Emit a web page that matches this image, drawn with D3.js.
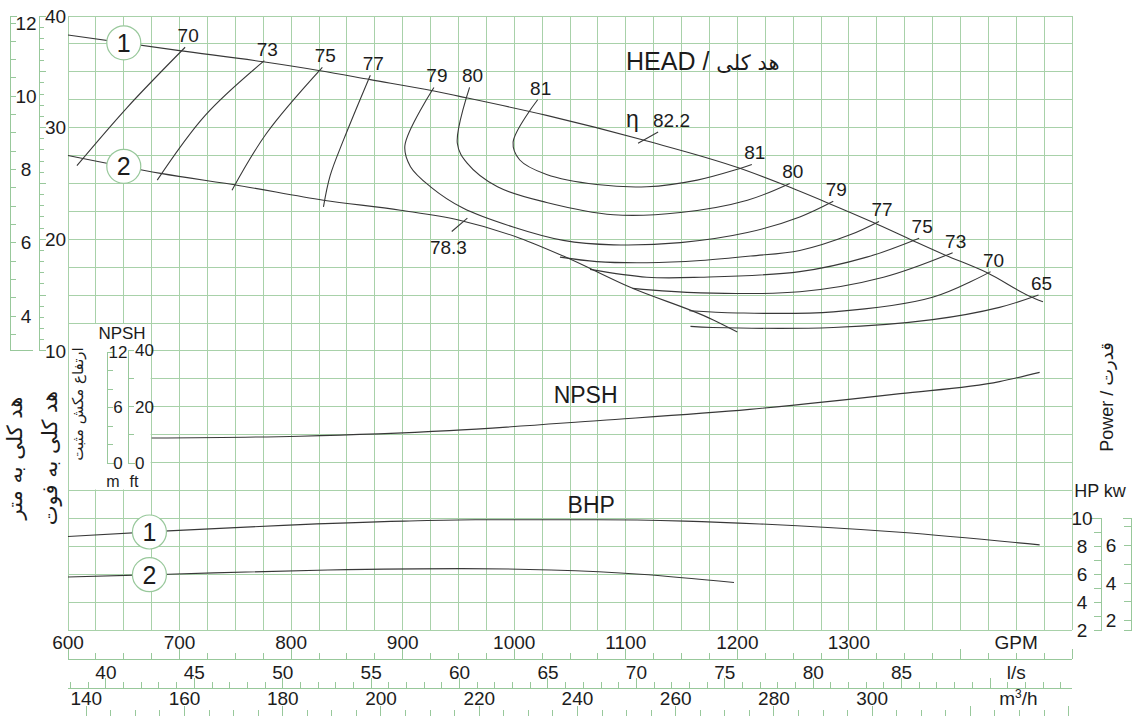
<!DOCTYPE html>
<html>
<head>
<meta charset="UTF-8" />
<style>
  body { margin: 0; background: #fff; }
  svg { display: block; font-family: "Liberation Sans", Arial, "DejaVu Sans", sans-serif; }
  .grid line { stroke: #a8d1a9; stroke-width: 1; shape-rendering: crispEdges; }
  .ax { stroke: #98c89b; stroke-width: 1; fill: none; shape-rendering: crispEdges; }
  .curve { fill: none; stroke: #383838; stroke-width: 1.1; }
  text { fill: #1c1c1c; }
</style>
</head>
<body>
<svg></svg>
<script src="https://d3js.org/d3.v7.min.js"></script>
<script>
// ---- data (flow in GPM, head in ft) ----
const gpmTicks = [600, 700, 800, 900, 1000, 1100, 1200, 1300];
const lsTicks = [40, 45, 50, 55, 60, 65, 70, 75, 80, 85];
const m3hTicks = [140, 160, 180, 200, 220, 240, 260, 280, 300];
const headFtTicks = [10, 20, 30, 40];
const headMTicks = [4, 6, 8, 10, 12];
const hpTicks = [2, 4, 6, 8, 10];
const kwTicks = [2, 4, 6];
const npshMTicks = [0, 6, 12];
const npshFtTicks = [0, 20, 40];

const head1 = [[600,38.3],[700,36.9],[775,35.9],[826,35.1],[871,34.3],[927,33.3],[951,32.8],[1029,31.1],[1119,28.8],[1201,26.4],[1241,24.9],[1280,23.3],[1322,21.5],[1357,19.9],[1386,18.6],[1424,17.0],[1462,14.9],[1474,14.4]];
const head2 = [[600,27.5],[683,25.9],[754,24.8],[829,23.5],[898,22.6],[951,21.7],[1005,20.1],[1044,18.5],[1104,15.7],[1178,12.8],[1200,11.7]];

const eff70Left = [[608,26.6],[653,31.8],[705,37.2]];
const eff73Left = [[680,25.3],[723,31.1],[776,36.0]];
const eff75Left = [[747,24.4],[778,29.5],[828,35.4]];
const eff77Left = [[829,22.9],[835,25.7],[847,28.9],[871,34.7]];
const eff79 = [[928,33.6],[902,28.4],[907,26.5],[925,24.7],[954,22.8],[999,21.1],[1044,19.9],[1089,19.5],[1149,19.7],[1209,20.6],[1256,22.0],[1286,23.4]];
const eff80 = [[960,33.6],[949,28.6],[958,26.8],[985,24.7],[1029,23.3],[1089,22.2],[1149,22.4],[1209,23.5],[1247,25.0]];
const eff81 = [[1021,32.5],[999,28.7],[1005,27.1],[1029,25.8],[1074,24.9],[1119,24.7],[1164,25.3],[1201,26.3],[1213,26.7]];
const eff77Right = [[1041,18.4],[1074,18.0],[1119,17.9],[1167,18.1],[1212,18.5],[1256,19.0],[1301,20.4],[1327,21.6]];
const eff75Right = [[1068,17.3],[1119,16.6],[1167,16.6],[1256,17.1],[1316,18.4],[1363,20.1]];
const eff73Right = [[1106,15.6],[1167,15.2],[1256,15.3],[1331,16.6],[1393,18.8]];
const eff70Right = [[1157,13.6],[1200,13.4],[1286,13.5],[1375,14.8],[1427,17.1]];
const eff65Right = [[1158,12.2],[1178,12.1],[1286,12.1],[1375,12.8],[1435,13.9],[1470,15.0]];

const bestMark = [[1111,28.6],[1129,29.6]];   // eta 82.2
const lowMark = [[944,20.7],[958,21.9]];      // 78.3

const npshFlow = [675, 808, 942, 1077, 1211, 1346, 1435, 1471];
const npshM = [2.7, 2.9, 3.5, 4.6, 5.8, 7.5, 8.8, 9.8];

const bhp1Flow = [600, 690, 793, 901, 965, 1073, 1153, 1220, 1346, 1471];
const bhp1Hp = [8.7, 9.1, 9.5, 9.8, 9.9, 9.9, 9.8, 9.6, 9.0, 8.1];
const bhp2Flow = [600, 690, 833, 953, 1033, 1113, 1197];
const bhp2Hp = [5.8, 6.0, 6.3, 6.4, 6.3, 6.0, 5.4];

// ---- setup ----
const width = 1138, height = 716;
const svg = d3.select("svg").attr("width", width).attr("height", height);

const x = d3.scaleLinear().domain([600, 1500]).range([68, 1072]);
const yHead = d3.scaleLinear().domain([-15, 40]).range([630, 16]);
const cell = (630 - 16) / 22;
const yPow = d3.scaleLinear().domain([2, 10]).range([630, 630 - 4 * cell]);
const yNpsh = d3.scaleLinear().domain([0, 12]).range([463, 352]);
const xLs = d3.scaleLinear().domain([600 * 0.0630902, 1500 * 0.0630902]).range(x.range());
const xM3 = d3.scaleLinear().domain([600 * 0.227125, 1500 * 0.227125]).range(x.range());

function interpY(pts, gx) {
  for (let i = 1; i < pts.length; i++) {
    if (gx <= pts[i][0]) {
      const t = (gx - pts[i - 1][0]) / (pts[i][0] - pts[i - 1][0]);
      return pts[i - 1][1] + t * (pts[i][1] - pts[i - 1][1]);
    }
  }
  return pts[pts.length - 1][1];
}

// grid
const grid = svg.append("g").attr("class", "grid");
grid.selectAll(".v").data(d3.range(600, 1501, 25)).join("line").attr("class", "v")
  .attr("x1", d => x(d)).attr("x2", d => x(d)).attr("y1", yHead(40)).attr("y2", yHead(-15));
grid.selectAll(".h").data(d3.range(-15, 40.1, 2.5)).join("line").attr("class", "h")
  .attr("x1", x(600)).attr("x2", x(1500)).attr("y1", d => yHead(d)).attr("y2", d => yHead(d));

// blank box for NPSH scale
svg.append("rect").attr("x", x(600) + 1).attr("y", yHead(12.5) + 1)
  .attr("width", x(675) - x(600) - 2).attr("height", yHead(-2.5) - yHead(12.5) - 2)
  .attr("fill", "#fff");

// ---- left head axes ----
function yHeadM(m) { return yHead(m * 3.28084); }
const mAx = svg.append("g");
mAx.append("path").attr("class", "ax")
  .attr("d", `M17,${yHead(40)}H10V${yHead(10)}H33`);
mAx.selectAll("line").data(d3.range(3.5, 12.01, 0.5)).join("line").attr("class", "ax")
  .attr("x1", 10).attr("x2", 16).attr("y1", d => yHeadM(d)).attr("y2", d => yHeadM(d));
mAx.selectAll("text").data(headMTicks).join("text")
  .attr("x", 26).attr("y", d => yHeadM(d)).attr("dy", "0.35em")
  .attr("text-anchor", "middle").attr("font-size", 19).text(d => d);

const ftAx = svg.append("g");
ftAx.append("path").attr("class", "ax").attr("d", `M39,${yHead(40)}V${yHead(10)}`);
ftAx.selectAll("line").data(d3.range(10, 40.1, 1)).join("line").attr("class", "ax")
  .attr("x1", 39).attr("x2", d => (d % 5 === 0 ? 46 : 44)).attr("y1", d => yHead(d)).attr("y2", d => yHead(d));
ftAx.selectAll("text").data(headFtTicks).join("text")
  .attr("x", 45).attr("y", d => yHead(d)).attr("dy", "0.35em")
  .attr("font-size", 19).text(d => d);

// vertical Persian titles
const vt = [["هد کلی به متر", 15, 458, 21], ["هد کلی به فوت", 50, 458, 21], ["ارتفاع مکش مثبت", 78, 404, 15]];
svg.selectAll(".vt").data(vt).join("text").attr("class", "vt")
  .attr("transform", d => `translate(${d[1]},${d[2]}) rotate(-90)`)
  .attr("text-anchor", "middle").attr("dy", "0.35em")
  .attr("font-family", "DejaVu Sans, sans-serif").attr("font-size", d => d[3]).text(d => d[0]);

// ---- NPSH mini axes ----
const nAx = svg.append("g");
nAx.append("path").attr("class", "ax").attr("d", `M107,${yNpsh(12)}V${yNpsh(0)}H114`);
nAx.selectAll(".tk").data(d3.range(0, 12.1, 2)).join("line").attr("class", "ax tk")
  .attr("x1", 107).attr("x2", 113).attr("y1", d => yNpsh(d)).attr("y2", d => yNpsh(d));
nAx.selectAll(".lb").data(npshMTicks).join("text").attr("class", "lb")
  .attr("x", 118).attr("y", d => yNpsh(d)).attr("dy", "0.35em")
  .attr("text-anchor", "middle").attr("font-size", 17).text(d => d);
const yNft = f => yNpsh(f / 3.28084);
nAx.append("path").attr("class", "ax").attr("d", `M128,${yNft(40)}V${yNft(0)}H135`);
nAx.selectAll(".tf").data(d3.range(0, 40.1, 10)).join("line").attr("class", "ax tf")
  .attr("x1", 128).attr("x2", 134).attr("y1", d => yNft(d)).attr("y2", d => yNft(d));
nAx.selectAll(".lf").data(npshFtTicks).join("text").attr("class", "lf")
  .attr("x", 135).attr("y", d => yNft(d)).attr("dy", "0.35em")
  .attr("font-size", 17).text(d => d);
svg.append("text").attr("x", 122).attr("y", 339).attr("text-anchor", "middle")
  .attr("font-size", 17).text("NPSH");
svg.append("text").attr("x", 113).attr("y", 487).attr("text-anchor", "middle").attr("font-size", 16).text("m");
svg.append("text").attr("x", 134).attr("y", 487).attr("text-anchor", "middle").attr("font-size", 16).text("ft");

// ---- right power axes ----
svg.append("text").attr("transform", "translate(1107,397) rotate(-90)")
  .attr("text-anchor", "middle").attr("dy", "0.35em").attr("font-size", 18)
  .text("Power / قدرت");
svg.append("text").attr("x", 1100).attr("y", 497).attr("text-anchor", "middle")
  .attr("font-size", 18).text("HP kw");
const pAx = svg.append("g");
pAx.append("path").attr("class", "ax").attr("d", `M1090,${yPow(10)}H1101V${yPow(2)}H1094`);
pAx.selectAll(".tk").data(d3.range(3, 10, 1)).join("line").attr("class", "ax tk")
  .attr("x1", 1094).attr("x2", 1101).attr("y1", d => yPow(d)).attr("y2", d => yPow(d));
pAx.selectAll(".lb").data(hpTicks).join("text").attr("class", "lb")
  .attr("x", 1082).attr("y", d => yPow(d)).attr("dy", "0.35em")
  .attr("text-anchor", "middle").attr("font-size", 19).text(d => d);
const yKw = k => yPow(k / 0.7457);
pAx.append("path").attr("class", "ax").attr("d", `M1123,${yPow(10)}H1131V${yPow(2)}H1124`);
pAx.selectAll(".tw").data(d3.range(2, 7.1, 1)).join("line").attr("class", "ax tw")
  .attr("x1", 1124).attr("x2", 1131).attr("y1", d => yKw(d)).attr("y2", d => yKw(d));
pAx.selectAll(".lw").data(kwTicks).join("text").attr("class", "lw")
  .attr("x", 1111).attr("y", d => yKw(d)).attr("dy", "0.35em")
  .attr("text-anchor", "middle").attr("font-size", 19).text(d => d);

// ---- bottom flow axes ----
const bAx = svg.append("g");
bAx.selectAll(".g").data(gpmTicks).join("text").attr("class", "g")
  .attr("x", d => x(d)).attr("y", 649).attr("text-anchor", "middle").attr("font-size", 19).text(d => d);
bAx.append("text").attr("x", x(1450)).attr("y", 649).attr("text-anchor", "middle").attr("font-size", 19).text("GPM");

bAx.append("line").attr("class", "ax").attr("x1", x(600)).attr("x2", x(1500)).attr("y1", 659).attr("y2", 659);
bAx.selectAll(".t2").data(d3.range(600, 1501, 25)).join("line").attr("class", "ax t2")
  .attr("x1", d => x(d)).attr("x2", d => x(d)).attr("y1", 659).attr("y2", d => (d % 100 === 0 ? 649 : 653));
bAx.selectAll(".l").data(lsTicks).join("text").attr("class", "l")
  .attr("x", d => xLs(d)).attr("y", 679).attr("text-anchor", "middle").attr("font-size", 19).text(d => d);
bAx.append("text").attr("x", x(1450)).attr("y", 679).attr("text-anchor", "middle").attr("font-size", 19).text("l/s");

bAx.append("line").attr("class", "ax").attr("x1", x(600)).attr("x2", x(1500)).attr("y1", 688).attr("y2", 688);
bAx.selectAll(".t3").data(d3.range(38, 95, 1)).join("line").attr("class", "ax t3")
  .attr("x1", d => xLs(d)).attr("x2", d => xLs(d)).attr("y1", 688).attr("y2", d => (d % 5 === 0 ? 678 : 682));
bAx.selectAll(".m").data(m3hTicks).join("text").attr("class", "m")
  .attr("x", d => xM3(d)).attr("y", 705).attr("text-anchor", "middle").attr("font-size", 19).text(d => d);
const unit = bAx.append("text").attr("x", x(1452)).attr("y", 705).attr("text-anchor", "middle").attr("font-size", 19);
unit.append("tspan").text("m");
unit.append("tspan").attr("font-size", 12).attr("dy", -7).text("3");
unit.append("tspan").attr("dy", 7).text("/h");
bAx.selectAll(".t4").data(d3.range(140, 341, 5)).join("line").attr("class", "ax t4")
  .attr("x1", d => xM3(d)).attr("x2", d => xM3(d)).attr("y1", 716).attr("y2", d => (d % 20 === 0 ? 706 : 710))
  .attr("display", d => (xM3(d) < x(600) || xM3(d) > x(1500) ? "none" : null));

// ---- curves ----
const headLine = d3.line().x(d => x(d[0])).y(d => yHead(d[1])).curve(d3.curveMonotoneX);
const effLine = d3.line().x(d => x(d[0])).y(d => yHead(d[1])).curve(d3.curveCatmullRom.alpha(0.5));
const curves = svg.append("g");

const contours = [
  { eff: 70, pts: eff70Left, ends: ["end"] },
  { eff: 73, pts: eff73Left, ends: ["end"] },
  { eff: 75, pts: eff75Left, ends: ["end"] },
  { eff: 77, pts: eff77Left, ends: ["end"] },
  { eff: 79, pts: eff79, ends: ["start", "end"] },
  { eff: 80, pts: eff80, ends: ["start", "end"] },
  { eff: 81, pts: eff81, ends: ["start", "end"] },
  { eff: 77, pts: eff77Right, ends: ["end"] },
  { eff: 75, pts: eff75Right, ends: ["end"] },
  { eff: 73, pts: eff73Right, ends: ["end"] },
  { eff: 70, pts: eff70Right, ends: ["end"] },
  { eff: 65, pts: eff65Right, ends: ["end"] }
];
contours.forEach(c => {
  curves.append("path").attr("class", "curve").attr("d", effLine(c.pts));
  c.ends.forEach(e => {
    const p = e === "start" ? c.pts[0] : c.pts[c.pts.length - 1];
    curves.append("text").attr("x", x(p[0]) + 3).attr("y", yHead(p[1]) - 5)
      .attr("text-anchor", "middle").attr("font-size", 19).text(c.eff);
  });
});

curves.append("path").attr("class", "curve").attr("d", headLine(head1));
curves.append("path").attr("class", "curve").attr("d", headLine(head2));
curves.append("path").attr("class", "curve").attr("d", headLine(bestMark));
curves.append("path").attr("class", "curve").attr("d", headLine(lowMark));
curves.append("text").attr("x", x(1106)).attr("y", yHead(30.7) + 7).attr("text-anchor", "middle")
  .attr("font-size", 23).text("η");
curves.append("text").attr("x", x(1141)).attr("y", yHead(30.7) + 7).attr("text-anchor", "middle")
  .attr("font-size", 19).text("82.2");
curves.append("text").attr("x", x(941)).attr("y", yHead(19.3) + 7).attr("text-anchor", "middle")
  .attr("font-size", 19).text("78.3");

const npshLine = d3.line().x((d, i) => x(npshFlow[i])).y(d => yNpsh(d)).curve(d3.curveMonotoneX);
curves.append("path").attr("class", "curve").attr("d", npshLine(npshM));

const bhp1 = bhp1Flow.map((f, i) => [f, bhp1Hp[i]]);
const bhp2 = bhp2Flow.map((f, i) => [f, bhp2Hp[i]]);
const powLine = d3.line().x(d => x(d[0])).y(d => yPow(d[1])).curve(d3.curveMonotoneX);
curves.append("path").attr("class", "curve").attr("d", powLine(bhp1));
curves.append("path").attr("class", "curve").attr("d", powLine(bhp2));

// titles
const ht = svg.append("text").attr("x", 626).attr("y", 70).attr("font-size", 25);
ht.append("tspan").text("HEAD / ");
ht.append("tspan").attr("font-family", "DejaVu Sans, sans-serif").attr("font-size", 21).text("هد کلی");
svg.append("text").attr("x", x(1064)).attr("y", 403).attr("text-anchor", "middle").attr("font-size", 23).text("NPSH");
svg.append("text").attr("x", x(1069)).attr("y", 513).attr("text-anchor", "middle").attr("font-size", 23).text("BHP");

// numbered circles
const marks = [
  [1, x(650), yHead(interpY(head1, 650))],
  [2, x(650), yHead(interpY(head2, 650))],
  [1, x(673), yPow(interpY(bhp1, 673))],
  [2, x(673), yPow(interpY(bhp2, 673))]
];
const mg = svg.selectAll(".mk").data(marks).join("g").attr("class", "mk")
  .attr("transform", d => `translate(${d[1]},${d[2]})`);
mg.append("circle").attr("r", 17).attr("fill", "#fff").attr("stroke", "#98c89b").attr("stroke-width", 1.2);
mg.append("text").attr("text-anchor", "middle").attr("dy", "0.36em").attr("font-size", 25).text(d => d[0]);
</script>
</body>
</html>
